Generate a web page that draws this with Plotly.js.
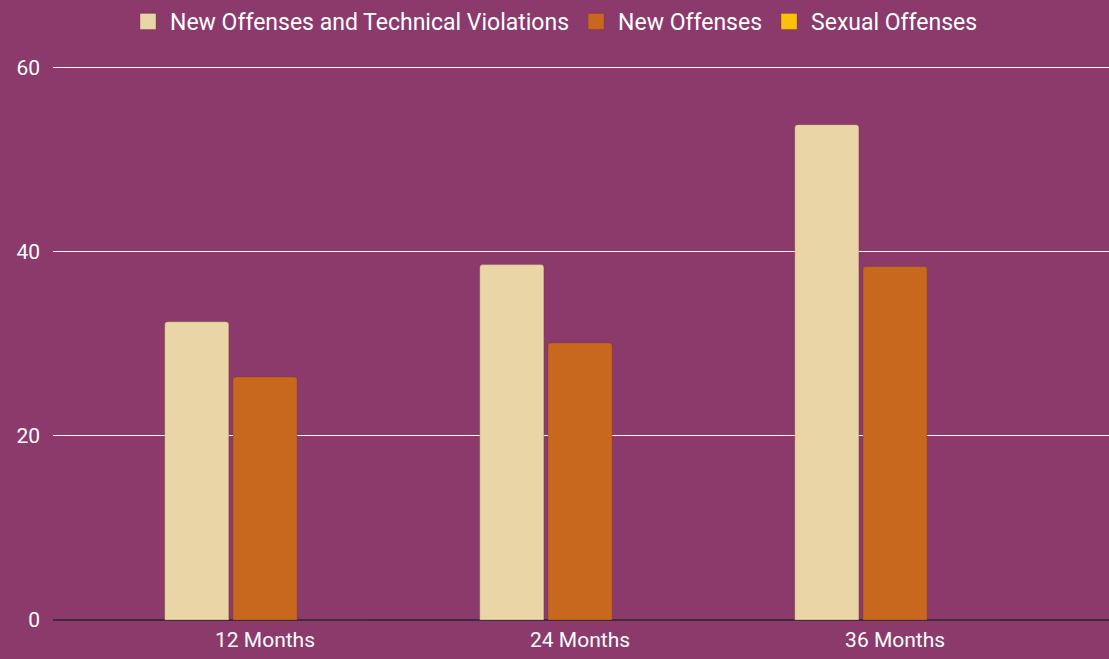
<!DOCTYPE html>
<html>
<head>
<meta charset="utf-8">
<script src="https://cdn.plot.ly/plotly-3.0.1.min.js"></script>
<style>html,body{margin:0;padding:0;background:#8B3A6B;}#chart{width:1109px;height:659px;}</style>
</head>
<body>
<div id="chart"></div>
<script>
const categories = ["12 Months", "24 Months", "36 Months"];
const seriesNames = ["New Offenses and Technical Violations", "New Offenses", "Sexual Offenses"];
const newOffensesAndTechnical = [32.4, 38.6, 53.8];
const newOffenses = [26.4, 30.1, 38.4];
const sexualOffenses = [0, 0, 0];
const colors = ["#E9D5A5", "#C8671E", "#FBC10A"];

const values = [newOffensesAndTechnical, newOffenses, sexualOffenses];
const traces = values.map((v, i) => ({
  type: "bar",
  name: seriesNames[i],
  x: categories,
  y: v,
  showlegend: false,
  legendgroup: "g" + i,
  marker: {color: colors[i], cornerradius: 3, line: {width: 0.6, color: "rgba(90,60,40,0.5)"}},
  hoverinfo: "x+y+name"
}));
// legend-only entries with larger square swatches
seriesNames.forEach((n, i) => traces.push({
  type: "scatter", mode: "markers", name: n, x: [null], y: [null],
  legendgroup: "g" + i, showlegend: true,
  marker: {symbol: "square", size: 22, color: colors[i], line: {width: 0.6, color: "rgba(90,60,40,0.5)"}}
}));

const layout = {
  width: 1109, height: 659,
  paper_bgcolor: "#8B3A6B",
  plot_bgcolor: "#8B3A6B",
  margin: {l: 53, r: 0, t: 63, b: 39},
  font: {family: "Roboto, Arial, sans-serif", color: "#ffffff", size: 20},
  barmode: "group",
  bargap: 0.35,
  bargroupgap: 0.06,
  showlegend: true,
  legend: {orientation: "h", x: 0.5, xanchor: "center", xref: "container", y: 1, yref: "container", yanchor: "top",
           font: {size: 23, color: "#ffffff"}, bgcolor: "rgba(0,0,0,0)", itemsizing: "trace", itemwidth: 34},
  xaxis: {type: "category", range: [-0.673, 2.679], showgrid: false, zeroline: false, showline: false,
          tickfont: {size: 21, color: "#ffffff"}, ticks: "", ticklabelstandoff: 5, fixedrange: true},
  yaxis: {range: [0, 60.5], tickvals: [0, 20, 40, 60], showgrid: true, gridcolor: "#ffffff", gridwidth: 1,
          zeroline: true, zerolinecolor: "#3E2A3C", zerolinewidth: 2, showline: false,
          tickfont: {size: 21, color: "#ffffff"}, ticks: "", ticklabelstandoff: 12, fixedrange: true}
};

Plotly.newPlot("chart", traces, layout, {displayModeBar: false, staticPlot: true});
</script>
</body>
</html>
